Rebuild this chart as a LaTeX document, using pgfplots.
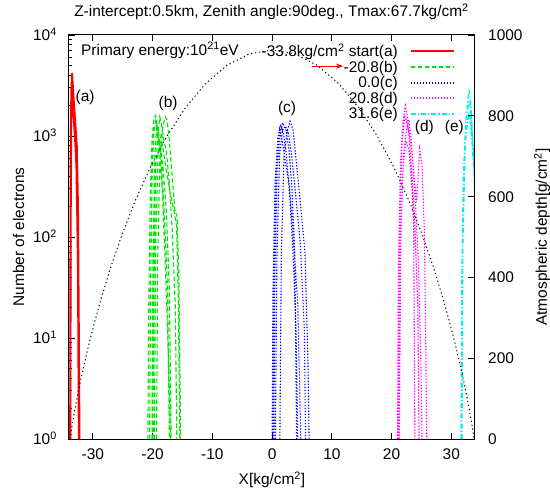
\documentclass[border=0pt]{standalone}
\usepackage{pgfplots}
\pgfplotsset{compat=1.18}
\usepackage{fontspec}
\setmainfont{Liberation Sans}
\usetikzlibrary{arrows.meta}
\definecolor{gpred}{RGB}{255,0,0}
\definecolor{gpgreen}{RGB}{0,230,0}
\definecolor{gpblue}{RGB}{0,0,255}
\definecolor{gpmag}{RGB}{255,0,255}
\definecolor{gpcyan}{RGB}{0,235,235}
\begin{document}
\begin{tikzpicture}[font=\fontsize{15.5}{18}\selectfont]
\useasboundingbox (-69bp,-56bp) rectangle (481bp,439bp);
\begin{axis}[
 scale only axis, width=405bp, height=404bp,
 xmin=-34, xmax=33.8, ymode=log, ymin=1, ymax=10000,
 xtick={-30,-20,-10,0,10,20,30}, xticklabels={-30,-20,-10,0,10,20,30},
 ytick={1,10,100,1000,10000},
 yticklabels={10\textsuperscript{0},10\textsuperscript{1},10\textsuperscript{2},10\textsuperscript{3},10\textsuperscript{4}},
 minor ytick={2,3,4,5,6,7,8,9,20,30,40,50,60,70,80,90,200,300,400,500,600,700,800,900,2000,3000,4000,5000,6000,7000,8000,9000},
 ytick pos=left,
 tick align=inside, major tick length=6bp, minor tick length=3bp,
 tick style={black, line width=0.8bp},
 axis line style={line width=1bp},
 xticklabel style={inner sep=0pt, anchor=north, yshift=-10bp},
 yticklabel style={inner sep=0pt, anchor=base east, xshift=-12bp, yshift=-5.5bp},
 unbounded coords=jump,
 legend plot pos=right,
 legend cell align=right,
 legend style={at={(axis description cs:0.953,0.978)}, anchor=north east, draw=none, fill=none,
   inner sep=0pt, row sep=2.8bp, column sep=12bp, nodes={inner sep=0pt}},
 legend image code/.code={\draw[#1, line width=2bp] (0bp,0bp) -- (43bp,0bp);},
]
\addplot[gpred, line width=2bp] coordinates {
(-33.8,1)(-33.7,300)(-33.6,2500)(-33.5,4200)(-33.2,2200)(-32.9,1200)(-32.7,800)(-32.5,200)(-32.35,10)(-32.25,1)
(-33.8,nan)
(-33.8,1)(-33.72,600)(-33.6,3000)(-33.4,2500)(-33.1,1300)(-32.8,700)(-32.55,150)(-32.4,10)(-32.3,1)
(-33.8,nan)
(-33.78,1)(-33.7,900)(-33.55,2800)(-33.35,1900)(-33.0,1000)(-32.75,500)(-32.5,60)(-32.35,1)
};
\addplot[gpgreen, line width=1.1bp, dash pattern=on 4.5bp off 2.5bp] coordinates {
(-20.8,1)(-20.65,20)(-20.4,250)(-20.1,900)(-19.8,1500)(-19.5,1600)(-19.2,1200)(-18.8,650)(-18.4,300)(-18.0,80)(-17.5,12)(-17.0,1)
(-20,nan)
(-20.5,1)(-20.35,30)(-20.1,350)(-19.8,1100)(-19.5,1400)(-19.1,950)(-18.7,800)(-18.2,450)(-17.7,180)(-17.2,30)(-16.9,1)
(-20,nan)
(-19.95,1)(-19.8,40)(-19.5,450)(-19.1,1100)(-18.8,1550)(-18.5,1300)(-18.1,900)(-17.7,700)(-17.2,350)(-16.7,110)(-16.2,20)(-15.95,1)
(-20,nan)
(-19.35,1)(-19.15,60)(-18.8,550)(-18.3,1200)(-17.9,1550)(-17.6,1450)(-17.2,900)(-16.8,450)(-16.3,190)(-15.9,160)(-15.6,40)(-15.3,1)
(-20,nan)
(-19.7,1)(-19.5,80)(-19.1,650)(-18.6,1000)(-18.2,700)(-17.6,420)(-17.0,260)(-16.4,180)(-16.0,130)(-15.7,25)(-15.45,1)
(-20,nan)
(-20.1,1)(-19.95,60)(-19.6,700)(-19.3,1300)(-19.0,1100)(-18.5,500)(-18.0,150)(-17.5,30)(-17.2,1)
};
\addplot[gpblue, line width=1.1bp, dash pattern=on 1.3bp off 1.7bp] coordinates {
(0.0,1)(0.15,30)(0.5,350)(0.95,950)(1.4,1300)(1.9,1050)(2.4,650)(2.9,280)(3.5,70)(4.0,12)(4.3,1)
(0,nan)
(0.3,1)(0.45,40)(0.85,480)(1.3,1050)(1.8,1350)(2.3,1150)(2.8,750)(3.3,320)(3.8,70)(4.1,1)
(0,nan)
(0.55,1)(0.8,60)(1.25,650)(1.75,1150)(2.25,1250)(2.75,1050)(3.25,650)(3.9,280)(4.7,90)(5.4,12)(5.6,1)
(0,nan)
(1.3,1)(1.55,70)(2.0,650)(2.5,1100)(3.0,1400)(3.5,1150)(4.0,600)(4.7,230)(5.5,70)(6.0,6)(6.2,1)
(0,nan)
(0.1,1)(0.35,50)(0.8,560)(1.25,1150)(1.7,900)(2.3,520)(2.9,320)(3.5,110)(4.3,22)(4.8,1)
};
\addplot[gpmag, line width=1.1bp, dash pattern=on 1.5bp off 1.5bp] coordinates {
(21.0,1)(21.15,50)(21.5,550)(21.9,1400)(22.3,2000)(22.6,1600)(23.0,850)(23.4,420)(23.9,130)(24.4,20)(24.6,1)
(21,nan)
(21.1,1)(21.3,80)(21.7,750)(22.2,1600)(22.6,1300)(23.0,1050)(23.5,620)(24.0,220)(24.5,55)(24.9,6)(25.1,1)
(21,nan)
(21.3,1)(21.55,100)(22.0,650)(22.5,1150)(22.9,1450)(23.3,900)(23.8,380)(24.2,220)(24.7,750)(25.1,520)(25.5,110)(25.9,1)
(21,nan)
(21.2,1)(21.45,60)(21.9,480)(22.4,900)(22.9,720)(23.4,320)(23.7,130)(23.9,1)
};
\addplot[gpcyan, line width=1.1bp, dash pattern=on 5bp off 2bp on 1.3bp off 2bp] coordinates {
(31.6,1)(31.75,40)(32.0,400)(32.4,1300)(32.8,2400)(33.0,2900)(33.3,2000)(33.6,900)(33.9,300)
(32,nan)
(31.7,1)(31.85,70)(32.2,650)(32.6,1700)(33.0,2200)(33.4,1500)(33.7,700)(33.9,400)
(32,nan)
(31.8,1)(31.95,90)(32.35,850)(32.75,1400)(33.15,1700)(33.5,1000)(33.9,500)
(32,nan)
(31.65,1)(31.8,60)(32.1,500)(32.5,1100)(32.9,1600)(33.2,1300)(33.5,800)(33.9,350)
};
\legend{-33.8kg/cm\textsuperscript{2} start(a),-20.8(b),0.0(c),20.8(d),31.6(e)}
\node at (axis cs:-31.3,2380) {(a)};
\node at (axis cs:-17.4,2120) {(b)};
\node at (axis cs:2.5,1890) {(c)};
\node at (axis cs:25.5,1200) {(d)};
\node at (axis cs:30.5,1200) {(e)};
\node[anchor=base west, inner sep=0pt] at (axis description cs:0.0296,0.950) {Primary energy:10\textsuperscript{21}eV};
\draw[gpred, line width=1bp, -{Stealth[length=7bp,width=5bp]}] (axis description cs:0.6,0.923) -- (axis description cs:0.677,0.923);
\end{axis}
\begin{axis}[
 scale only axis, width=405bp, height=404bp,
 xmin=-34, xmax=33.8, ymin=0, ymax=1000,
 axis y line*=right, axis x line=none,
 ytick={0,200,400,600,800,1000}, yticklabels={0,200,400,600,800,1000},
 tick align=inside, major tick length=6bp,
 tick style={black, line width=0.8bp},
 axis line style={line width=1bp},
 yticklabel style={inner sep=0pt, anchor=base west, xshift=14bp, yshift=-5.5bp},
]
\addplot[black, line width=1bp, dash pattern=on 1.2bp off 2.8bp] coordinates {
(-33.8,0)(-33.79,1.1)(-33.76,4.9)(-33.64,17.6)(-33.43,37.7)(-33.00,74.4)(-32.65,101.5)(-32.19,135.6)(-31.57,177.7)(-30.77,228.2)(-29.75,287.2)(-28.48,354.3)(-26.94,428.4)(-25.08,507.8)(-22.91,590.0)(-20.41,671.9)(-17.59,750.0)(-14.48,820.6)(-11.11,880.1)(-7.53,925.2)(-3.80,953.4)
(0,963)
(3.80,953.4)(7.53,925.2)(11.11,880.1)(14.48,820.6)(17.59,750.0)(20.41,671.9)(22.91,590.0)(25.08,507.8)(26.94,428.4)(28.48,354.3)(29.75,287.2)(30.77,228.2)(31.57,177.7)(32.19,135.6)(32.65,101.5)(33.00,74.4)(33.43,37.7)(33.64,17.6)(33.76,4.9)(33.79,1.1)(33.8,0)
};
\end{axis}
\node at (202.5bp,427bp) {Z-intercept:0.5km, Zenith angle:90deg., Tmax:67.7kg/cm\textsuperscript{2}};
\node at (203bp,-41bp) {X[kg/cm\textsuperscript{2}]};
\node[rotate=90] at (-50.5bp,202bp) {Number of electrons};
\node[rotate=90] at (473bp,202bp) {Atmospheric depth[g/cm\textsuperscript{2}]};
\end{tikzpicture}
\end{document}
